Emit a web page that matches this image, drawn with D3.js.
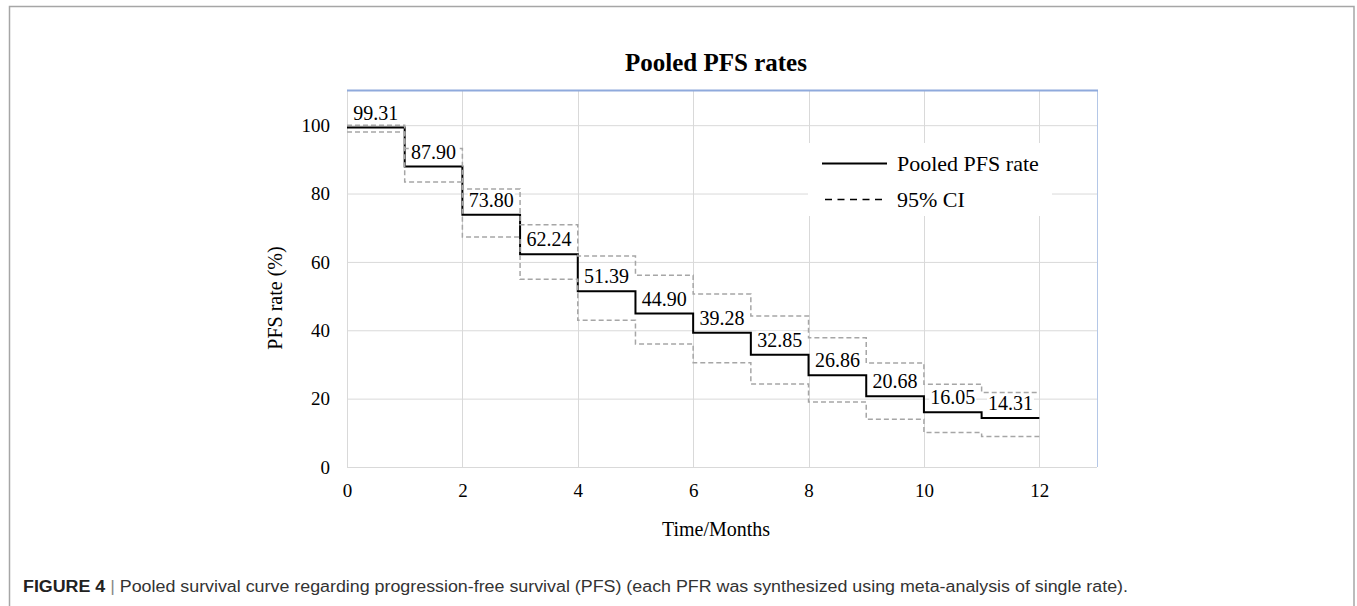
<!DOCTYPE html>
<html>
<head>
<meta charset="utf-8">
<script src="https://cdn.jsdelivr.net/npm/d3@7"></script>
<style>
  html, body { margin: 0; padding: 0; background: #fff; }
  svg { display: block; }
</style>
</head>
<body>
<svg id="chart" width="1357" height="606"></svg>
<script>
// Start month of each interval; the curve ends at month 12
const months = [0, 1, 2, 3, 4, 5, 6, 7, 8, 9, 10, 11];
const endMonth = 12;
// Pooled progression-free survival rate (%) per interval
const pfs = [99.31, 87.90, 73.80, 62.24, 51.39, 44.90, 39.28, 32.85, 26.86, 20.68, 16.05, 14.31];
// 95% confidence interval bounds (%)
const ciUpper = [100.0, 93.2, 81.3, 70.9, 61.7, 56.1, 50.6, 44.2, 37.8, 30.4, 24.2, 21.8];
const ciLower = [98.0, 83.4, 67.3, 54.9, 42.9, 36.0, 30.5, 24.3, 19.0, 14.0, 10.1, 8.9];
// Axis ticks
const xTicks = [0, 2, 4, 6, 8, 10, 12];
const yTicks = [0, 20, 40, 60, 80, 100];

const serif = '"Liberation Serif", "Times New Roman", Times, serif';
const sans = '"Liberation Sans", Arial, Helvetica, sans-serif';

const svg = d3.select("#chart");

// Figure frame
svg.append("rect")
  .attr("x", 9.5).attr("y", 6.5)
  .attr("width", 1344.5).attr("height", 700)
  .attr("fill", "none").attr("stroke", "#a6a6a6").attr("stroke-width", 1.5);

const x = d3.scaleLinear().domain([0, 13]).range([347, 1097]);
const y = d3.scaleLinear().domain([0, 110]).range([467, 91]);

// Gridlines
const grid = svg.append("g");
grid.selectAll("line.h").data(yTicks).join("line")
  .attr("x1", x(0)).attr("x2", x(13))
  .attr("y1", d => y(d) + 0.5).attr("y2", d => y(d) + 0.5)
  .attr("stroke", "#d9d9d9").attr("stroke-width", 1);
grid.selectAll("line.v").data(xTicks).join("line")
  .attr("x1", d => Math.round(x(d)) + 0.5).attr("x2", d => Math.round(x(d)) + 0.5)
  .attr("y1", y(110)).attr("y2", y(0))
  .attr("stroke", "#d9d9d9").attr("stroke-width", 1);
// Plot area border: right and top edges
svg.append("line")
  .attr("x1", x(13) + 0.5).attr("x2", x(13) + 0.5)
  .attr("y1", y(110)).attr("y2", y(0))
  .attr("stroke", "#b4c7e7").attr("stroke-width", 1);
svg.append("line")
  .attr("x1", x(0)).attr("x2", x(13) + 1)
  .attr("y1", y(110) - 0.5).attr("y2", y(110) - 0.5)
  .attr("stroke", "#8faadc").attr("stroke-width", 2);

// Axes
const yAxis = svg.append("g")
  .attr("transform", `translate(${x(0)},0)`)
  .call(d3.axisLeft(y).tickValues(yTicks).tickSize(0).tickPadding(17));
const xAxis = svg.append("g")
  .attr("transform", `translate(0,${y(0)})`)
  .call(d3.axisBottom(x).tickValues(xTicks).tickSize(0).tickPadding(17));
[yAxis, xAxis].forEach(a => {
  a.select(".domain").remove();
  a.selectAll("text")
    .attr("font-family", serif).attr("font-size", 19).attr("fill", "#000");
});

// Step series
const toPoints = vals => months.map((m, i) => ({ t: m, v: vals[i] }))
  .concat([{ t: endMonth, v: vals[vals.length - 1] }]);
const step = d3.line().x(d => x(d.t)).y(d => y(d.v)).curve(d3.curveStepAfter);

svg.append("path")
  .attr("d", step(toPoints(pfs)))
  .attr("fill", "none").attr("stroke", "#000").attr("stroke-width", 2);

[ciUpper, ciLower].forEach(vals => {
  svg.append("path")
    .attr("d", step(toPoints(vals)))
    .attr("fill", "none").attr("stroke", "#a6a6a6")
    .attr("stroke-width", 1.5).attr("stroke-dasharray", "5,3");
});

// Value labels centred over each interval
const labels = svg.append("g");
months.forEach((m, i) => {
  const g = labels.append("g");
  const bg = g.append("rect").attr("fill", "#fff");
  const t = g.append("text")
    .attr("x", x(m + 0.5)).attr("y", y(pfs[i]) - 8)
    .attr("text-anchor", "middle")
    .attr("font-family", serif).attr("font-size", 20).attr("fill", "#000")
    .text(pfs[i].toFixed(2));
  const bb = t.node().getBBox();
  bg.attr("x", bb.x - 1).attr("y", bb.y + 2)
    .attr("width", bb.width + 2).attr("height", bb.height - 4);
});

// Legend
const legend = svg.append("g");
legend.append("rect")
  .attr("x", 808).attr("y", 143).attr("width", 244).attr("height", 73)
  .attr("fill", "#fff");
legend.append("line")
  .attr("x1", 822).attr("x2", 887).attr("y1", 163.5).attr("y2", 163.5)
  .attr("stroke", "#000").attr("stroke-width", 2);
legend.append("line")
  .attr("x1", 825).attr("x2", 887).attr("y1", 199.5).attr("y2", 199.5)
  .attr("stroke", "#000").attr("stroke-width", 1.5).attr("stroke-dasharray", "7,5.5");
legend.append("text")
  .attr("x", 897).attr("y", 171)
  .attr("font-family", serif).attr("font-size", 22).attr("fill", "#000")
  .text("Pooled PFS rate");
legend.append("text")
  .attr("x", 897).attr("y", 207)
  .attr("font-family", serif).attr("font-size", 22).attr("fill", "#000")
  .text("95% CI");

// Titles
svg.append("text")
  .attr("x", 716).attr("y", 71)
  .attr("text-anchor", "middle")
  .attr("font-family", serif).attr("font-size", 25).attr("font-weight", "bold")
  .attr("fill", "#000")
  .text("Pooled PFS rates");
svg.append("text")
  .attr("x", 716).attr("y", 536)
  .attr("text-anchor", "middle")
  .attr("font-family", serif).attr("font-size", 20).attr("fill", "#000")
  .text("Time/Months");
svg.append("text")
  .attr("transform", "translate(282,298) rotate(-90)")
  .attr("text-anchor", "middle")
  .attr("font-family", serif).attr("font-size", 20).attr("fill", "#000")
  .text("PFS rate (%)");

// Caption
const cap = svg.append("text")
  .attr("x", 23).attr("y", 592)
  .attr("font-family", sans).attr("font-size", 16).attr("fill", "#333");
cap.append("tspan").attr("font-weight", "bold").attr("fill", "#222").text("FIGURE 4");
cap.append("tspan").attr("fill", "#888").text(" | ");
cap.append("tspan").text("Pooled survival curve regarding progression-free survival (PFS) (each PFR was synthesized using meta-analysis of single rate).");
const capLen = cap.node().getComputedTextLength();
if (Math.abs(capLen - 1105) > 4) {
  cap.attr("textLength", 1105).attr("lengthAdjust", "spacingAndGlyphs");
}
</script>
</body>
</html>
